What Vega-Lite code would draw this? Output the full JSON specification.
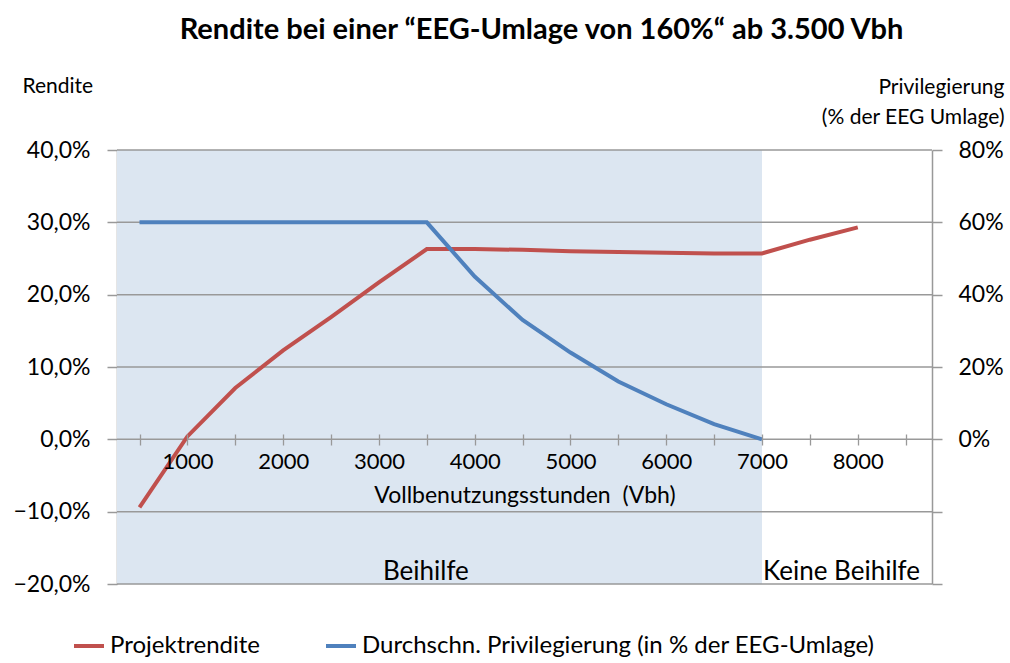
{
  "$schema": "https://vega.github.io/schema/vega-lite/v6.json",
  "width": 815,
  "height": 434,
  "padding": {"left": 117, "top": 150, "right": 78, "bottom": 79},
  "autosize": {"type": "none"},
  "background": "white",
  "config": {
    "view": {"stroke": null},
    "font": "Lato",
    "axis": {"labelFont": "Lato", "titleFont": "Lato", "labelColor": "#000", "titleColor": "#000"},
    "legend": {"labelFont": "Lato", "labelColor": "#000"}
  },
  "title": {
    "text": "Rendite bei einer “EEG-Umlage von 160%“ ab 3.500 Vbh",
    "fontSize": 29,
    "fontWeight": "bold",
    "font": "Lato",
    "color": "#000",
    "offset": 30,
    "dx": 17
  },
  "datasets": {
    "lines": [
      {"vbh": 500, "series": "Projektrendite", "value": -9.4},
      {"vbh": 1000, "series": "Projektrendite", "value": 0.4},
      {"vbh": 1500, "series": "Projektrendite", "value": 7.1},
      {"vbh": 2000, "series": "Projektrendite", "value": 12.3},
      {"vbh": 2500, "series": "Projektrendite", "value": 16.9},
      {"vbh": 3000, "series": "Projektrendite", "value": 21.7},
      {"vbh": 3500, "series": "Projektrendite", "value": 26.3},
      {"vbh": 4000, "series": "Projektrendite", "value": 26.3},
      {"vbh": 4500, "series": "Projektrendite", "value": 26.2},
      {"vbh": 5000, "series": "Projektrendite", "value": 26.0},
      {"vbh": 5500, "series": "Projektrendite", "value": 25.9},
      {"vbh": 6000, "series": "Projektrendite", "value": 25.8},
      {"vbh": 6500, "series": "Projektrendite", "value": 25.7},
      {"vbh": 7000, "series": "Projektrendite", "value": 25.7},
      {"vbh": 7500, "series": "Projektrendite", "value": 27.6},
      {"vbh": 8000, "series": "Projektrendite", "value": 29.3},
      {"vbh": 500, "series": "Durchschn. Privilegierung (in % der EEG-Umlage)", "value": 60},
      {"vbh": 1000, "series": "Durchschn. Privilegierung (in % der EEG-Umlage)", "value": 60},
      {"vbh": 1500, "series": "Durchschn. Privilegierung (in % der EEG-Umlage)", "value": 60},
      {"vbh": 2000, "series": "Durchschn. Privilegierung (in % der EEG-Umlage)", "value": 60},
      {"vbh": 2500, "series": "Durchschn. Privilegierung (in % der EEG-Umlage)", "value": 60},
      {"vbh": 3000, "series": "Durchschn. Privilegierung (in % der EEG-Umlage)", "value": 60},
      {"vbh": 3500, "series": "Durchschn. Privilegierung (in % der EEG-Umlage)", "value": 60},
      {"vbh": 4000, "series": "Durchschn. Privilegierung (in % der EEG-Umlage)", "value": 45},
      {"vbh": 4500, "series": "Durchschn. Privilegierung (in % der EEG-Umlage)", "value": 33},
      {"vbh": 5000, "series": "Durchschn. Privilegierung (in % der EEG-Umlage)", "value": 24},
      {"vbh": 5500, "series": "Durchschn. Privilegierung (in % der EEG-Umlage)", "value": 16},
      {"vbh": 6000, "series": "Durchschn. Privilegierung (in % der EEG-Umlage)", "value": 9.7},
      {"vbh": 6500, "series": "Durchschn. Privilegierung (in % der EEG-Umlage)", "value": 4.2},
      {"vbh": 7000, "series": "Durchschn. Privilegierung (in % der EEG-Umlage)", "value": 0}
    ],
    "shade": [{"x1": 265, "x2": 7000, "y1": -20, "y2": 40}],
    "grid": [{"y": -20}, {"y": -10}, {"y": 0}, {"y": 10}, {"y": 20}, {"y": 30}, {"y": 40}],
    "notes": [{"vbh": 3042, "value": -18.35, "label": "Beihilfe"}, {"vbh": 7010, "value": -18.35, "label": "Keine Beihilfe"}]
  },
  "layer": [
    {
      "layer": [
        {
          "data": {"name": "shade"},
          "mark": {"type": "rect", "color": "#dce6f1"},
          "encoding": {
            "x": {"field": "x1", "type": "quantitative", "scale": {"domain": [265, 8775], "nice": false, "zero": false},
              "axis": {
                "values": [500, 750, 1000, 1250, 1500, 1750, 2000, 2250, 2500, 2750, 3000, 3250, 3500, 3750, 4000, 4250, 4500, 4750, 5000, 5250, 5500, 5750, 6000, 6250, 6500, 6750, 7000, 7250, 7500, 7750, 8000, 8250, 8500],
                "labelExpr": "datum.value % 1000 == 0 ? format(datum.value, 'd') : ''",
                "labelFontSize": 22,
                "labelPadding": 6,
                "domain": false,
                "grid": false,
                "tickSize": 11,
                "tickColor": "#999",
                "tickWidth": 1.3,
                "offset": -150,
                "zindex": 1,
                "labelFlush": false,
                "labelOverlap": false,
                "title": "Vollbenutzungsstunden\u00a0 (Vbh)",
                "titleFontSize": 23,
                "titleFontWeight": "normal",
                "titlePadding": 12
              }
            },
            "x2": {"field": "x2"},
            "y": {"field": "y1", "type": "quantitative", "scale": {"domain": [-20, 40], "nice": false, "zero": false},
              "axis": {
                "values": [-20, -10, 0, 10, 20, 30, 40],
                "labelExpr": "replace(format(datum.value, '.1f'), '.', ',') + '%'",
                "labelFontSize": 23,
                "labelPadding": 17,
                "grid": false,
                "domainColor": "#999",
                "domainWidth": 1.5,
                "tickColor": "#999",
                "tickWidth": 1.5,
                "tickSize": 10,
                "title": "Rendite",
                "titleAngle": 0,
                "titleAlign": "left",
                "titleBaseline": "middle",
                "titleX": -95,
                "titleY": -64,
                "titleFontSize": 21,
                "titleFontWeight": "normal"
              }
            },
            "y2": {"field": "y2"}
          }
        },
        {
          "data": {"name": "grid"},
          "mark": {"type": "rule", "color": "#999", "strokeWidth": 1.5},
          "encoding": {"y": {"field": "y", "type": "quantitative"}}
        },
        {
          "data": {"name": "lines"},
          "transform": [{"filter": "datum.series == 'Projektrendite'"}],
          "mark": {"type": "line", "strokeWidth": 4},
          "encoding": {
            "x": {"field": "vbh", "type": "quantitative"},
            "y": {"field": "value", "type": "quantitative"},
            "color": {"field": "series", "type": "nominal",
              "scale": {"domain": ["Projektrendite", "Durchschn. Privilegierung (in % der EEG-Umlage)"], "range": ["#c0504d", "#4f81bd"]},
              "legend": {
                "orient": "none",
                "legendX": -45,
                "legendY": 479,
                "direction": "horizontal",
                "title": null,
                "symbolType": "stroke",
                "symbolStrokeWidth": 4,
                "symbolSize": 900,
                "labelFontSize": 24,
                "labelOffset": 4,
                "columnPadding": 58,
                "labelLimit": 900
              }
            }
          }
        },
        {
          "data": {"name": "notes"},
          "mark": {"type": "text", "align": "left", "baseline": "middle", "fontSize": 26, "font": "Lato", "color": "#000"},
          "encoding": {
            "x": {"field": "vbh", "type": "quantitative"},
            "y": {"field": "value", "type": "quantitative"},
            "text": {"field": "label"}
          }
        }
      ]
    },
    {
      "data": {"name": "lines"},
      "transform": [{"filter": "datum.series != 'Projektrendite'"}],
      "mark": {"type": "line", "strokeWidth": 4},
      "encoding": {
        "x": {"field": "vbh", "type": "quantitative"},
        "y": {"field": "value", "type": "quantitative", "scale": {"domain": [-40, 80], "nice": false, "zero": false},
          "axis": {
            "orient": "right",
            "values": [-40, -20, 0, 20, 40, 60, 80],
            "labelExpr": "datum.value >= 0 ? datum.value + '%' : ''",
            "labelFontSize": 23,
            "labelAlign": "left",
            "labelPadding": 16,
            "domain": true,
            "domainColor": "#999",
            "domainWidth": 1.5,
            "ticks": true,
            "tickColor": "#999",
            "tickWidth": 1.5,
            "tickSize": 10,
            "grid": false,
            "title": ["Privilegierung", "(% der EEG Umlage)"],
            "titleAngle": 0,
            "titleAlign": "right",
            "titleBaseline": "middle",
            "titleX": 72,
            "titleY": -63,
            "titleLineHeight": 30,
            "titleFontSize": 21,
            "titleFontWeight": "normal"
          }
        },
        "color": {"field": "series", "type": "nominal"}
      }
    }
  ],
  "resolve": {"scale": {"y": "independent"}}
}
